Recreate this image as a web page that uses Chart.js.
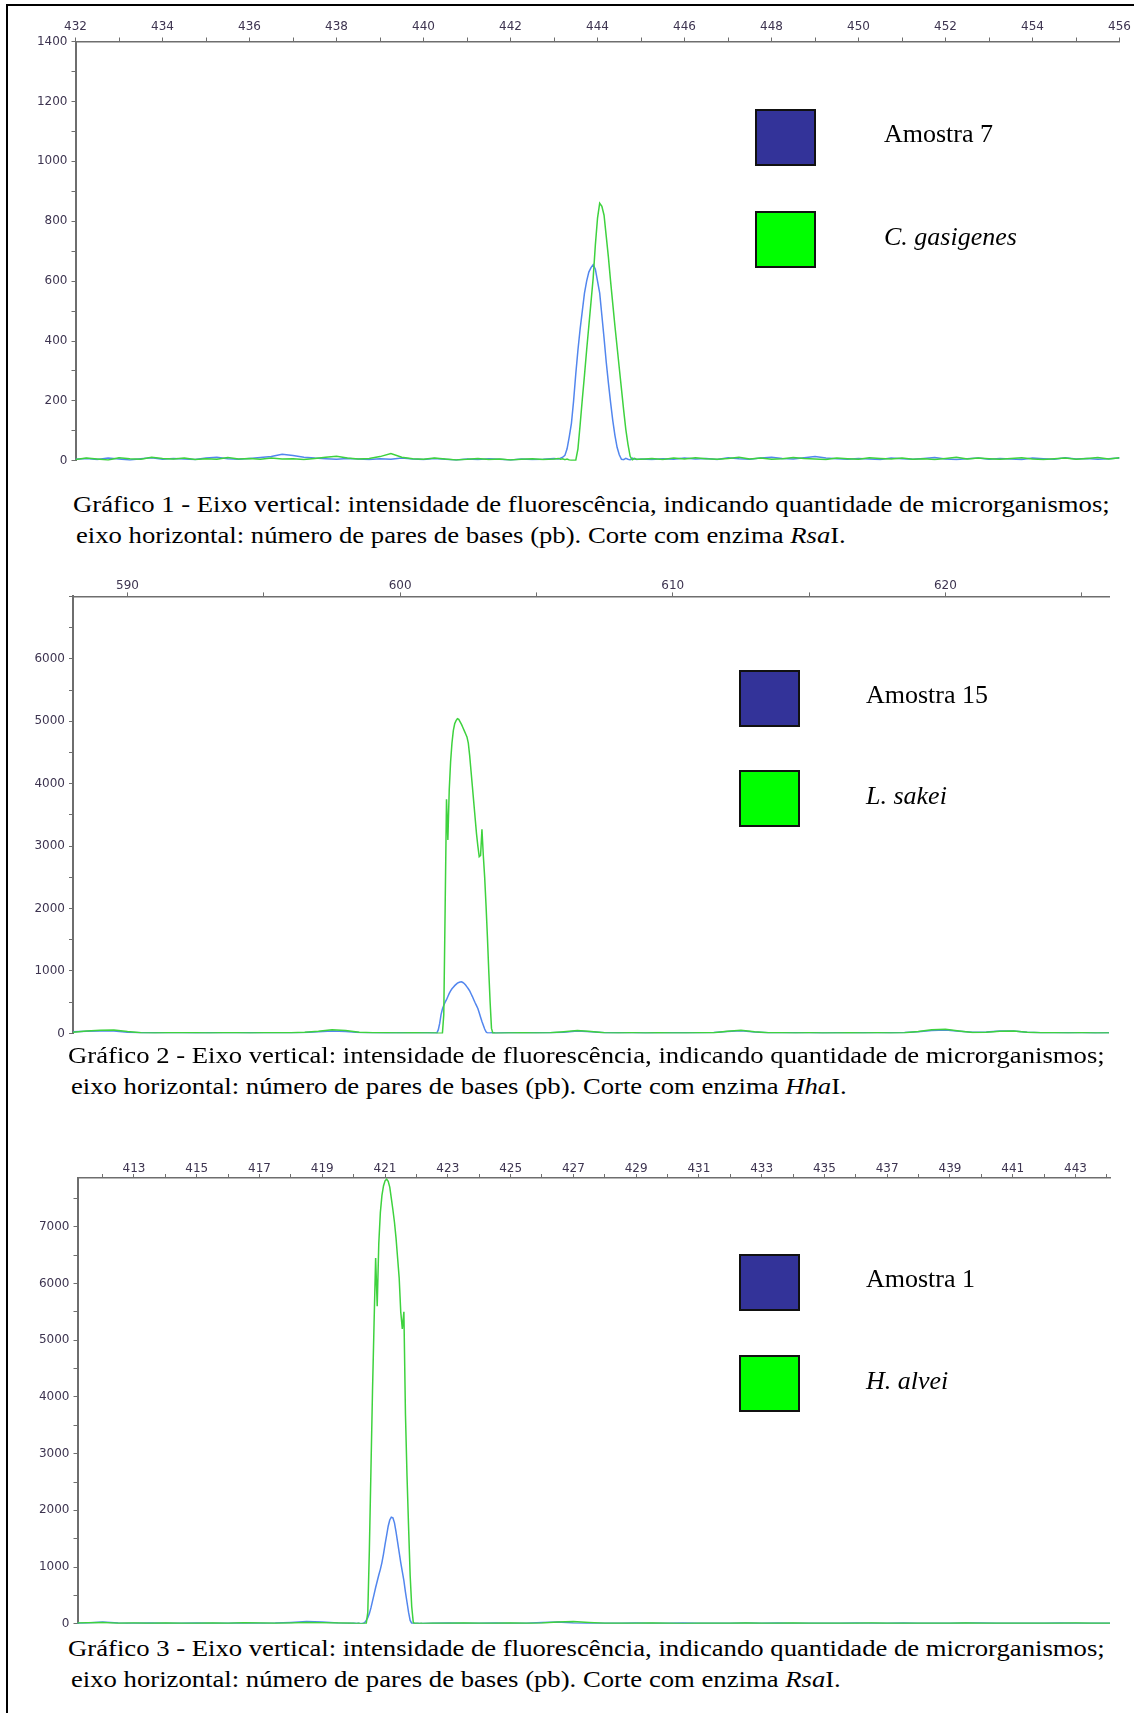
<!DOCTYPE html>
<html>
<head>
<meta charset="utf-8">
<script src="https://cdn.jsdelivr.net/npm/chart.js@4.4.0/dist/chart.umd.min.js"></script>
<style>
  body { margin: 0; width: 1134px; height: 1713px; overflow: hidden; background: #fff; position: relative; }
  .frame { position: absolute; left: 6px; top: 4px; right: -20px; bottom: -20px; border-left: 2px solid #000; border-top: 2px solid #000; }
  canvas { position: absolute; left: 0; }
  .cap { position: absolute; font-family: 'Liberation Serif', 'Times New Roman', serif; font-size: 23px; line-height: 23px;
         white-space: nowrap; transform-origin: 0 0; transform: scaleX(1.16); color: #000; }
  .leg { position: absolute; font-family: 'Liberation Serif', 'Times New Roman', serif; font-size: 26px; line-height: 26px; white-space: nowrap; color: #000; }
  .box { position: absolute; box-sizing: border-box; width: 61px; height: 57px; border: 2px solid #111; }
</style>
</head>
<body>
<div class="frame"></div>

<canvas id="c1" width="1134" height="472" style="top:0px"></canvas>
<canvas id="c2" width="1134" height="490" style="top:555px"></canvas>
<canvas id="c3" width="1134" height="500" style="top:1135px"></canvas>

<!-- legends -->
<div class="box" style="left:755px;top:109px;background:#333399"></div>
<div class="box" style="left:755px;top:211px;background:#00ff00"></div>
<div class="leg" style="left:884px;top:121px">Amostra 7</div>
<div class="leg" style="left:884px;top:224px"><i>C. gasigenes</i></div>

<div class="box" style="left:739px;top:670px;background:#333399"></div>
<div class="box" style="left:739px;top:770px;background:#00ff00"></div>
<div class="leg" style="left:866px;top:682px">Amostra 15</div>
<div class="leg" style="left:866px;top:783px"><i>L. sakei</i></div>

<div class="box" style="left:739px;top:1254px;background:#333399"></div>
<div class="box" style="left:739px;top:1355px;background:#00ff00"></div>
<div class="leg" style="left:866px;top:1266px">Amostra 1</div>
<div class="leg" style="left:866px;top:1368px"><i>H. alvei</i></div>

<!-- captions -->
<div class="cap" style="left:73px;top:493px">Gráfico 1 - Eixo vertical: intensidade de fluorescência, indicando quantidade de microrganismos;</div>
<div class="cap" style="left:76px;top:524px">eixo horizontal: número de pares de bases (pb). Corte com enzima <i>Rsa</i>I.</div>
<div class="cap" style="left:68px;top:1044px">Gráfico 2 - Eixo vertical: intensidade de fluorescência, indicando quantidade de microrganismos;</div>
<div class="cap" style="left:71px;top:1075px">eixo horizontal: número de pares de bases (pb). Corte com enzima <i>Hha</i>I.</div>
<div class="cap" style="left:68px;top:1637px">Gráfico 3 - Eixo vertical: intensidade de fluorescência, indicando quantidade de microrganismos;</div>
<div class="cap" style="left:71px;top:1668px">eixo horizontal: número de pares de bases (pb). Corte com enzima <i>Rsa</i>I.</div>

<script>
// ---- Gráfico 1 (RsaI) : Amostra 7 vs C. gasigenes ----
const c1Bp = [
  432,432.25,432.5,432.75,433,433.25,433.5,433.75,434,434.25,434.5,434.75,435,435.25,435.5,435.75,436,436.25,436.5,436.75,
  437,437.25,437.5,437.75,438,438.25,438.5,438.75,439,439.25,439.5,439.75,440,440.25,440.5,440.75,441,441.25,441.5,441.75,
  442,442.25,442.5,442.75,443,
  443.1,443.15,443.2,443.25,443.3,443.35,443.4,443.45,443.5,443.55,443.6,443.65,443.7,443.75,443.8,443.85,443.9,443.95,
  444,444.05,444.1,444.15,444.2,444.25,444.3,444.35,444.4,444.45,444.5,444.55,444.6,444.65,444.7,444.75,444.8,444.85,444.9,
  445,445.25,445.5,445.75,446,446.25,446.5,446.75,447,447.25,447.5,447.75,448,448.25,448.5,448.75,449,449.25,449.5,449.75,
  450,450.25,450.5,450.75,451,451.25,451.5,451.75,452,452.25,452.5,452.75,453,453.25,453.5,453.75,454,454.25,454.5,454.75,
  455,455.25,455.5,455.75,456
];
const c1Amostra = [
  5,8,4,9,6,3,7,10,5,8, 6,4,9,12,7,5,8,11,14,22, 18,12,9,7,5,8,6,4,7,5, 9,6,4,8,5,3,6,4,7,5, 3,6,4,5,8,
  6,9,12,18,40,80,125,200,290,370, 440,500,560,600,630,645,655,640,600,560, 485,410,330,260,195,135,85,45,20,5, 4,8,5,3,9,6,4,
  6,4,7,5,9,6,8,4,10,7, 5,9,12,8,6,10,14,9,7,5, 8,6,4,9,7,5,8,11,6,4, 7,9,5,8,6,4,9,7,5,10, 6,8,5,7,9
];
const c1Ref = [
  4,9,6,3,10,7,5,12,8,6, 9,4,7,5,11,6,8,5,9,6, 7,4,8,12,15,9,6,8,14,24, 12,7,5,9,6,3,5,8,4,6, 3,5,7,4,6,
  8,5,7,4,6,3,2,2,2,40, 120,205,285,370,450,530,610,720,810,860, 850,820,750,680,600,525,450,380,310,240, 170,105,55,15,3,8,5,
  5,8,4,9,6,10,7,5,8,12, 6,9,5,7,11,8,6,4,9,7, 5,10,8,6,9,5,7,4,8,12, 6,9,7,5,8,10,6,4,7,9, 5,8,11,6,10
];
const c1XTicks = [432,433,434,435,436,437,438,439,440,441,442,443,444,445,446,447,448,449,450,451,452,453,454,455,456];
const c1YTicks = [0,100,200,300,400,500,600,700,800,900,1000,1100,1200,1300,1400];

// ---- Gráfico 2 (HhaI) : Amostra 15 vs L. sakei ----
const c2Bp = [
  588,588.5,589,589.5,590,590.5,591,591.5,592,592.5,593,593.5,594,594.5,595,595.5,596,596.5,597,597.5,598,598.5,599,599.5,600,600.5,601,
  601.3,601.35,601.4,601.45,601.5,601.55,601.6,601.65,601.7,601.75,601.8,601.85,601.9,601.95,602,602.05,602.1,602.15,602.2,602.25,
  602.3,602.35,602.4,602.45,602.5,602.55,602.6,602.65,602.7,602.75,602.8,602.85,602.9,602.95,603,603.05,603.1,603.15,603.2,603.25,
  603.3,603.35,603.4,603.45,603.5,
  604,604.5,605,605.5,606,606.5,607,607.5,608,608.5,609,609.5,610,610.5,611,611.5,612,612.5,613,613.5,614,614.5,615,615.5,
  616,616.5,617,617.5,618,618.5,619,619.5,620,620.5,621,621.5,622,622.5,623,623.5,624,624.5,625,625.5,626
];
const c2Amostra = [
  25,35,40,38,20,12,10,9,12,8, 11,9,10,12,9,11,10,14,25,40, 30,14,10,8,11,9,12,
  8,10,60,160,300,390,450,500,540,590, 640,680,715,740,765,785,805,815,822,825, 815,800,775,745,715,680,635,590,540,490,
  445,400,330,260,190,130,70,25,6,8, 5,9,6,10,7,
  10,12,9,11,20,38,25,12,9,11, 8,10,12,9,11,14,30,42,22,10, 12,9,11,8,10,12,9,11,10,14, 25,48,55,35,18,22,38,40,20,10, 12,9,11,8,10
];
const c2Ref = [
  20,38,50,55,30,12,8,10,9,11, 8,10,9,8,11,9,12,18,35,60, 45,18,9,10,8,10,7,
  5,3,4,2,3,2,300,2000,3750,3100, 3900,4350,4650,4850,4960,5010,5040,5030,4990,4950, 4900,4850,4800,4750,4650,4450,4200,3950,3700,3450,
  3200,3000,2830,2850,3270,2850,2500,2050,1550,1000, 500,80,3,5,2,
  8,10,7,9,25,45,30,12,8,9, 7,10,8,7,9,12,35,50,25,9, 10,8,9,7,8,10,7,9,8,12, 30,60,65,40,15,20,35,38,18,9, 10,8,9,7,8
];
const c2XTicks = [590,595,600,605,610,615,620,625];
const c2YTicks = [0,500,1000,1500,2000,2500,3000,3500,4000,4500,5000,5500,6000,6500,7000];

// ---- Gráfico 3 (RsaI) : Amostra 1 vs H. alvei ----
const c3Bp = [
  411,411.5,412,412.5,413,413.5,414,414.5,415,415.5,416,416.5,417,417.5,418,418.5,419,419.5,420,
  420.05,420.1,420.15,420.2,420.25,420.3,420.35,420.4,420.45,420.5,420.55,420.6,420.65,420.7,420.75,420.8,420.85,420.9,420.95,421,
  421.05,421.1,421.15,421.2,421.25,421.3,421.35,421.4,421.45,421.5,421.55,421.6,421.65,421.7,421.75,421.8,421.85,421.9,421.95,422,
  422.05,422.1,422.15,422.2,
  422.5,423,423.5,424,424.5,425,425.5,426,426.5,427,427.5,428,428.5,429,429.5,430,430.5,431,431.5,432,432.5,433,433.5,
  434,434.5,435,435.5,436,436.5,437,437.5,438,438.5,439,439.5,440,440.5,441,441.5,442,442.5,443,443.5,444,444.5
];
const c3Amostra = [
  10,15,30,12,8,14,10,9,12,8, 11,14,9,12,25,40,30,12,9,
  8,5,9,6,4,5,20,60,110,180, 280,400,520,640,750,860,960,1080,1230,1400, 1560,1720,1830,1880,1870,1780,1620,1440,1260,1080,
  920,760,560,380,200,60,10,6,9,5, 8,6,4,7,
  9,12,8,10,13,9,11,25,30,14, 9,11,8,12,10,9,13,8,11,10, 12,9,14,10,8,11,9,12,10,8, 13,9,11,10,12,14,9,11,8,10, 12,9,11,10,9
];
const c3Ref = [
  8,20,25,10,12,9,14,8,10,13, 9,18,12,10,15,22,20,12,9,
  6,4,8,5,3,6,4,2,200,1300, 2700,4100,5300,6450,5600,6700,7250,7550,7720,7810, 7840,7800,7700,7500,7300,7080,6800,6450,6100,5500,
  5200,5500,3700,2600,1700,850,300,20,5,8, 4,6,9,5,
  10,8,12,9,11,14,9,12,30,40, 22,10,8,10,13,9,7,11,10,8, 12,9,10,13,8,9,11,10,12,9, 8,11,10,9,12,8,10,9,11,8, 10,12,9,8,10
];
const c3XTicks = [412,413,414,415,416,417,418,419,420,421,422,423,424,425,426,427,428,429,430,431,432,433,434,435,436,437,438,439,440,441,442,443,444];
const c3YTicks = [0,500,1000,1500,2000,2500,3000,3500,4000,4500,5000,5500,6000,6500,7000,7500];

const seriesNames = [['Amostra 7', 'C. gasigenes'], ['Amostra 15', 'L. sakei'], ['Amostra 1', 'H. alvei']];

const BLUE = '#5286ee';
const GREEN = '#3ed23e';
const AXIS = '#6e6e6e';
const TICK_TEXT = '#3d3450';
const TICK_FONT = { family: 'DejaVu Sans', size: 12 };

function toPoints(xs, ys) {
  return xs.map((x, i) => ({ x: x, y: ys[i] }));
}

function drawChart(id, o) {
  new Chart(document.getElementById(id), {
    type: 'line',
    data: {
      datasets: [
        { label: o.names[1], data: toPoints(o.bp, o.ref), borderColor: GREEN },
        { label: o.names[0], data: toPoints(o.bp, o.sample), borderColor: BLUE }
      ]
    },
    options: {
      responsive: false,
      animation: false,
      layout: { padding: { top: 0, left: 0, right: o.padRight, bottom: o.padBottom } },
      plugins: { legend: { display: false }, tooltip: { enabled: false } },
      elements: { point: { radius: 0 }, line: { borderWidth: 1.5, tension: 0 } },
      scales: {
        x: {
          type: 'linear', position: 'top', min: o.xMin, max: o.xMax,
          afterBuildTicks: s => { s.ticks = o.xTicks.map(v => ({ value: v })); },
          afterFit: s => { s.height = o.xAxisH; },
          border: { color: AXIS, width: 1.5 },
          grid: { drawOnChartArea: false, drawTicks: true, tickLength: 4, color: AXIS },
          ticks: {
            autoSkip: false, maxRotation: 0, padding: o.xPad,
            color: TICK_TEXT, font: TICK_FONT,
            callback: v => o.xLabel(v) ? v : ''
          }
        },
        y: {
          type: 'linear', min: 0, max: o.yMax,
          afterBuildTicks: s => { s.ticks = o.yTicks.map(v => ({ value: v })); },
          afterFit: s => { s.width = o.yAxisW; },
          border: { color: AXIS, width: 2 },
          grid: { drawOnChartArea: false, drawTicks: true, tickLength: 4, color: AXIS },
          ticks: {
            autoSkip: false, padding: 4,
            color: TICK_TEXT, font: TICK_FONT,
            callback: v => (v % o.yLabelEvery === 0 && v <= o.yLabelMax) ? v : ''
          }
        }
      }
    }
  });
}

drawChart('c1', {
  bp: c1Bp, sample: c1Amostra, ref: c1Ref, names: seriesNames[0],
  xMin: 432, xMax: 456, xTicks: c1XTicks, xLabel: v => v % 2 === 0, xAxisH: 41.5, xPad: 3,
  yMax: 1400, yTicks: c1YTicks, yLabelEvery: 200, yLabelMax: 1400, yAxisW: 75.5,
  padRight: 12, padBottom: 9.5
});

drawChart('c2', {
  bp: c2Bp, sample: c2Amostra, ref: c2Ref, names: seriesNames[1],
  xMin: 588, xMax: 626, xTicks: c2XTicks, xLabel: v => v % 10 === 0, xAxisH: 41.4, xPad: -1,
  yMax: 7000, yTicks: c2YTicks, yLabelEvery: 1000, yLabelMax: 6000, yAxisW: 73,
  padRight: 25, padBottom: 11.6
});

drawChart('c3', {
  bp: c3Bp, sample: c3Amostra, ref: c3Ref, names: seriesNames[2],
  xMin: 411.2, xMax: 444.1, xTicks: c3XTicks, xLabel: v => v % 2 === 1, xAxisH: 43, xPad: -2,
  yMax: 7860, yTicks: c3YTicks, yLabelEvery: 1000, yLabelMax: 7000, yAxisW: 77.5,
  padRight: 24, padBottom: 8.5
});
</script>
</body>
</html>
